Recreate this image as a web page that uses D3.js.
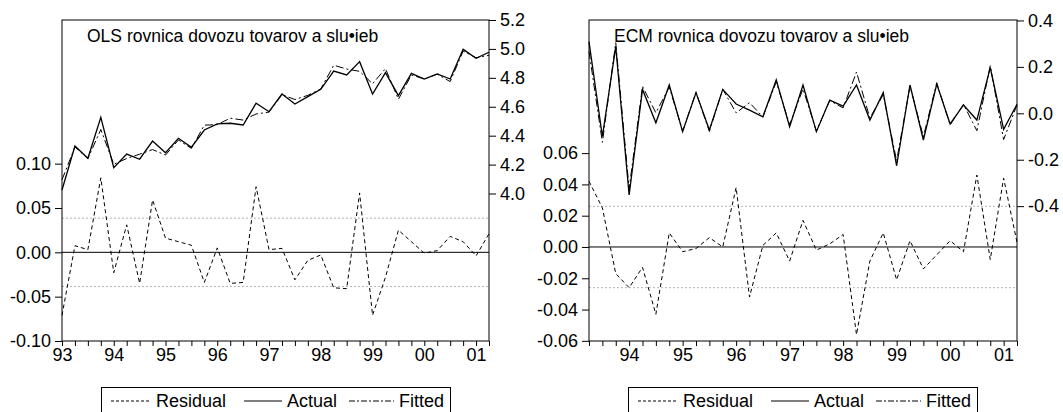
<!DOCTYPE html>
<html><head><meta charset="utf-8">
<script src="https://cdn.jsdelivr.net/npm/d3@7"></script>
<style>
body{margin:0;background:#fff}
svg{display:block}
text{font-family:"Liberation Sans",Arial,sans-serif;font-size:18px;fill:#000}
</style>
</head><body><svg id="c" width="1063" height="412"></svg>
<script>
// ---------- DATA ----------
const olsQuarters = ["1993Q1","1993Q2","1993Q3","1993Q4","1994Q1","1994Q2","1994Q3","1994Q4",
  "1995Q1","1995Q2","1995Q3","1995Q4","1996Q1","1996Q2","1996Q3","1996Q4",
  "1997Q1","1997Q2","1997Q3","1997Q4","1998Q1","1998Q2","1998Q3","1998Q4",
  "1999Q1","1999Q2","1999Q3","1999Q4","2000Q1","2000Q2","2000Q3","2000Q4",
  "2001Q1","2001Q2"];
const olsResidual = [-0.071,0.0075,0.003,0.084,-0.023,0.031,-0.035,0.059,
  0.016,0.012,0.008,-0.034,0.005,-0.035,-0.034,0.074,
  0.003,0.0045,-0.031,-0.009,-0.003,-0.040,-0.041,0.067,
  -0.071,-0.028,0.025,0.012,-0.001,0.002,0.018,0.012,
  -0.004,0.021];
const olsActual = [4.024,4.329,4.244,4.527,4.179,4.273,4.237,4.363,
  4.282,4.382,4.320,4.439,4.481,4.486,4.474,4.624,
  4.566,4.688,4.619,4.670,4.721,4.847,4.820,4.912,
  4.688,4.836,4.677,4.831,4.792,4.827,4.792,4.997,
  4.935,4.977];
const olsFitted = [4.095,4.322,4.241,4.443,4.202,4.242,4.272,4.304,
  4.266,4.370,4.312,4.473,4.476,4.521,4.508,4.550,
  4.563,4.684,4.650,4.679,4.724,4.887,4.861,4.845,
  4.759,4.864,4.652,4.819,4.793,4.825,4.774,4.985,
  4.939,4.956];

const ecmQuarters = ["1993Q2","1993Q3","1993Q4","1994Q1","1994Q2","1994Q3","1994Q4",
  "1995Q1","1995Q2","1995Q3","1995Q4","1996Q1","1996Q2","1996Q3","1996Q4",
  "1997Q1","1997Q2","1997Q3","1997Q4","1998Q1","1998Q2","1998Q3","1998Q4",
  "1999Q1","1999Q2","1999Q3","1999Q4","2000Q1","2000Q2","2000Q3","2000Q4",
  "2001Q1","2001Q2"];
const ecmResidual = [0.042,0.025,-0.017,-0.026,-0.013,-0.043,0.009,-0.003,
  -0.001,0.006,0.000,0.038,-0.032,0.001,0.009,-0.009,
  0.017,-0.002,0.002,0.008,-0.056,-0.009,0.009,-0.021,
  0.004,-0.014,-0.005,0.004,-0.003,0.046,-0.008,0.044,
  0.003];
const ecmActual = [0.309,-0.100,0.287,-0.352,0.103,-0.041,0.122,-0.079,
  0.089,-0.072,0.103,0.040,0.014,-0.015,0.144,-0.058,
  0.122,-0.079,0.057,0.031,0.122,-0.029,0.089,-0.226,
  0.122,-0.115,0.126,-0.046,0.036,-0.029,0.197,-0.069,
  0.039];
const ecmFitted = [0.267,-0.125,0.304,-0.326,0.116,0.002,0.113,-0.076,
  0.090,-0.078,0.103,0.002,0.046,-0.016,0.135,-0.049,
  0.105,-0.077,0.055,0.023,0.178,-0.020,0.080,-0.205,
  0.118,-0.101,0.131,-0.050,0.039,-0.075,0.205,-0.113,
  0.036];

const olsResidTicks = [0.10,0.05,0.00,-0.05,-0.10];
const olsResidLabels = ["0.10","0.05","0.00","-0.05","-0.10"];
const olsLevelTicks = [4.0,4.2,4.4,4.6,4.8,5.0,5.2];
const olsLevelLabels = ["4.0","4.2","4.4","4.6","4.8","5.0","5.2"];
const olsBand = 0.0385;

const ecmResidTicks = [0.06,0.04,0.02,0.00,-0.02,-0.04,-0.06];
const ecmResidLabels = ["0.06","0.04","0.02","0.00","-0.02","-0.04","-0.06"];
const ecmLevelTicks = [0.4,0.2,0.0,-0.2,-0.4];
const ecmLevelLabels = ["0.4","0.2","0.0","-0.2","-0.4"];
const ecmBand = 0.026;

const yearTicks = [1993,1994,1995,1996,1997,1998,1999,2000,2001];
const yearLabels = ["93","94","95","96","97","98","99","00","01"];
const legendLabels = ["Residual","Actual","Fitted"];
const titles = ["OLS rovnica dovozu tovarov a slu\u2022ieb","ECM rovnica dovozu tovarov a slu\u2022ieb"];

// ---------- DRAW ----------
const FONT = '"Liberation Sans",Arial,sans-serif';
const svg = d3.select("#c");
const qNum = s => +s.slice(0,4) + (+s.slice(5) - 1) / 4;

const panels = [
  {title:titles[0], q:olsQuarters, res:olsResidual, act:olsActual, fit:olsFitted,
   x0:62, x1:489, top:20, bottom:341, resDom:[-0.10,0.262], lvlDom:[2.98,5.2],
   rT:olsResidTicks, rL:olsResidLabels, lT:olsLevelTicks, lL:olsLevelLabels, band:olsBand,
   titleX:87, legX:101},
  {title:titles[1], q:ecmQuarters, res:ecmResidual, act:ecmActual, fit:ecmFitted,
   x0:589, x1:1017, top:20, bottom:341, resDom:[-0.0601,0.1451], lvlDom:[-0.981,0.402],
   rT:ecmResidTicks, rL:ecmResidLabels, lT:ecmLevelTicks, lL:ecmLevelLabels, band:ecmBand,
   titleX:614, legX:628}
];

panels.forEach(p => {
  const qv = p.q.map(qNum);
  const x = d3.scaleLinear().domain([qv[0], qv[qv.length-1]]).range([p.x0, p.x1]);
  const yR = d3.scaleLinear().domain(p.resDom).range([p.bottom, p.top]);
  const yL = d3.scaleLinear().domain(p.lvlDom).range([p.bottom, p.top]);
  const g = svg.append("g");

  [p.band, -p.band].forEach(b => {
    g.append("line").attr("x1",p.x0).attr("x2",p.x1).attr("y1",yR(b)).attr("y2",yR(b))
      .attr("stroke","#b4b4b4").attr("stroke-width",1).attr("stroke-dasharray","2,2");
  });
  g.append("line").attr("x1",p.x0).attr("x2",p.x1).attr("y1",yR(0)).attr("y2",yR(0))
    .attr("stroke","#000").attr("stroke-width",1);

  const idx = d3.range(qv.length);
  const lineR = d3.line().x(i => x(qv[i])).y(i => yR(p.res[i]));
  const lineA = d3.line().x(i => x(qv[i])).y(i => yL(p.act[i]));
  const lineF = d3.line().x(i => x(qv[i])).y(i => yL(p.fit[i]));

  g.append("path").attr("d", lineR(idx)).attr("fill","none").attr("stroke","#000")
    .attr("stroke-width",1).attr("stroke-dasharray","4,3");
  g.append("path").attr("d", lineF(idx)).attr("fill","none").attr("stroke","#000")
    .attr("stroke-width",1).attr("stroke-dasharray","8,3,2,3");
  g.append("path").attr("d", lineA(idx)).attr("fill","none").attr("stroke","#000")
    .attr("stroke-width",1.3);

  g.append("rect").attr("x",p.x0).attr("y",p.top).attr("width",p.x1-p.x0).attr("height",p.bottom-p.top)
    .attr("fill","none").attr("stroke","#000").attr("stroke-width",1);

  const axL = d3.axisLeft(yR).tickValues(p.rT).tickSize(7).tickPadding(4)
    .tickFormat((d,i) => p.rL[i]);
  const gl = g.append("g").attr("transform",`translate(${p.x0},0)`).call(axL);
  const axRt = d3.axisRight(yL).tickValues(p.lT).tickSize(7).tickPadding(4)
    .tickFormat((d,i) => p.lL[i]);
  const gr = g.append("g").attr("transform",`translate(${p.x1},0)`).call(axRt);
  const axB = d3.axisBottom(x).tickValues(qv).tickSize(5).tickPadding(2)
    .tickFormat(d => { const k = yearTicks.indexOf(d); return k >= 0 ? yearLabels[k] : ""; });
  const gb = g.append("g").attr("transform",`translate(0,${p.bottom})`).call(axB);
  [gl,gr,gb].forEach(a => {
    a.select(".domain").remove();
    a.attr("font-size",null).attr("font-family",null);
    a.selectAll("text").style("font-size","18px").style("font-family",FONT).attr("fill","#000");
    a.selectAll("line").attr("stroke","#000");
  });

  g.append("text").attr("x",p.titleX).attr("y",42).style("font-size","17.5px").text(p.title);

  const L = g.append("g").attr("transform",`translate(${p.legX},387)`);
  L.append("rect").attr("x",0.5).attr("y",0.5).attr("width",349).attr("height",40)
    .attr("fill","#fff").attr("stroke","#000").attr("stroke-width",1);
  const ly = 14;
  L.append("line").attr("x1",10).attr("x2",49).attr("y1",ly).attr("y2",ly)
    .attr("stroke","#000").attr("stroke-dasharray","3,2");
  L.append("text").attr("x",55).attr("y",20).text(legendLabels[0]);
  L.append("line").attr("x1",143).attr("x2",181).attr("y1",ly).attr("y2",ly)
    .attr("stroke","#000").attr("stroke-width",1.2);
  L.append("text").attr("x",186).attr("y",20).text(legendLabels[1]);
  L.append("line").attr("x1",248).attr("x2",293).attr("y1",ly).attr("y2",ly)
    .attr("stroke","#000").attr("stroke-dasharray","6,2,2,2");
  L.append("text").attr("x",298).attr("y",20).text(legendLabels[2]);
});
</script>
</body></html>
